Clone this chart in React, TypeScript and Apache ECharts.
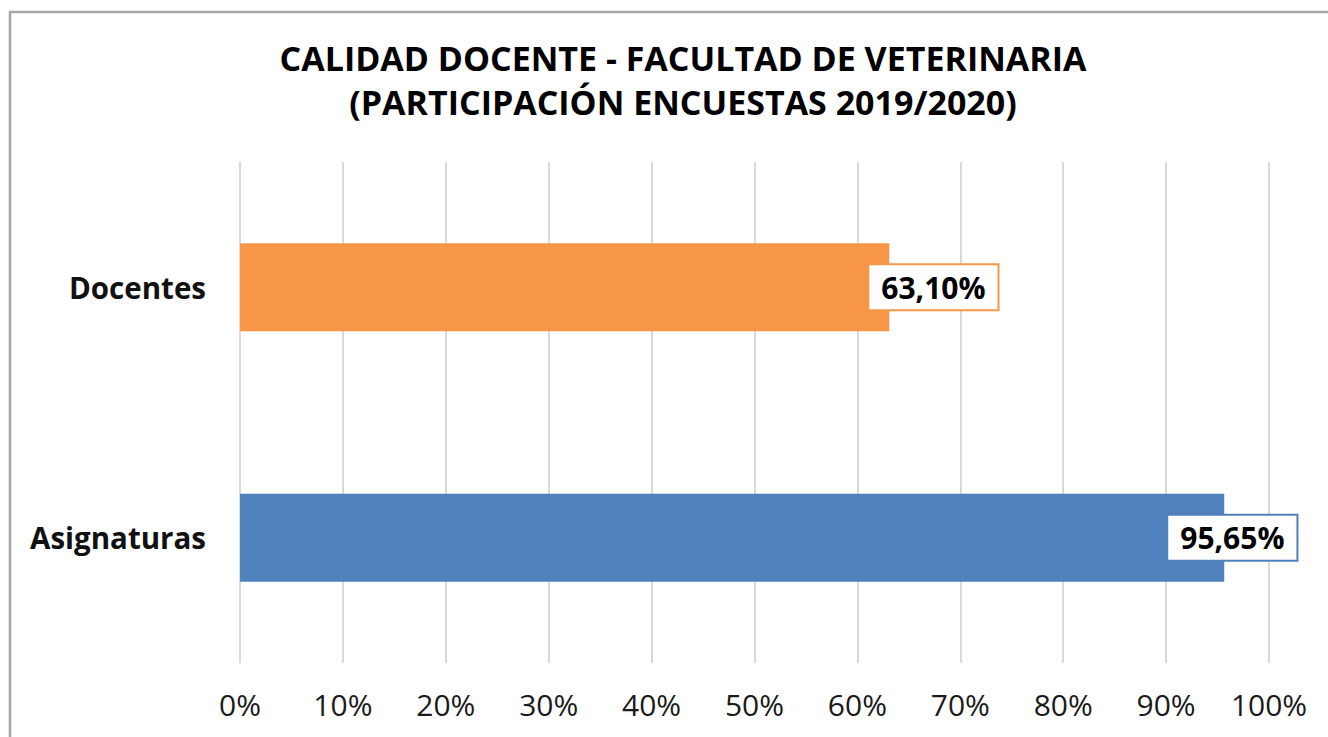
import React, { useEffect, useRef } from "react";
import * as echarts from "echarts";

const titleLines = ["CALIDAD DOCENTE - FACULTAD DE VETERINARIA", "(PARTICIPACIÓN ENCUESTAS 2019/2020)"];
const categories = ["Docentes", "Asignaturas"];
const values = [63.1, 95.65];
const barColors = ["#F79646", "#4F81BD"];
const labelOffsets = [-20, -56];
const xTicks = [0, 10, 20, 30, 40, 50, 60, 70, 80, 90, 100];

const FONT = "'Open Sans', 'Noto Sans', sans-serif";

export default function App() {
  const ref = useRef<HTMLDivElement>(null);
  useEffect(() => {
    if (!ref.current) return;
    const chart = echarts.init(ref.current, undefined, { renderer: "svg" });
    const fmt = (v: number) => v.toFixed(2).replace(".", ",") + "%";
    chart.setOption({
      animation: false,
      backgroundColor: "#ffffff",
      title: {
        text: titleLines.join("\n"),
        left: 678,
        top: 31,
        textAlign: "center",
        textStyle: {
          fontFamily: FONT,
          fontSize: 34,
          fontWeight: "bold",
          lineHeight: 44,
          color: "#000000",
        },
      },
      graphic: [
        {
          type: "rect",
          shape: { x: 10, y: 12, width: 1340, height: 760 },
          style: { fill: "none", stroke: "#a6a6a6", lineWidth: 2.5 },
          silent: true,
        },
      ],
      grid: { left: 240, right: 59, top: 162, bottom: 74, containLabel: false },
      xAxis: {
        type: "value",
        min: xTicks[0],
        max: xTicks[xTicks.length - 1],
        interval: 10,
        axisLine: { show: false },
        axisTick: { show: false },
        splitLine: { show: true, lineStyle: { color: "#d9d9d9", width: 2 } },
        axisLabel: {
          formatter: (v: number) => v + "%",
          fontFamily: FONT,
          fontSize: 30,
          color: "#1a1a1a",
          margin: 26,
        },
      },
      yAxis: {
        type: "category",
        data: categories,
        inverse: true,
        axisLine: { show: false },
        axisTick: { show: false },
        splitLine: { show: false },
        axisLabel: {
          fontFamily: FONT,
          fontSize: 29.5,
          fontWeight: "bold",
          color: "#111111",
          margin: 34,
        },
      },
      series: [
        {
          type: "bar",
          barWidth: 88,
          data: values.map((v, i) => ({
            value: v,
            itemStyle: { color: barColors[i] },
            label: {
              show: true,
              position: "right",
              distance: 0,
              offset: [labelOffsets[i], 0],
              formatter: () => fmt(v),
              fontFamily: FONT,
              fontSize: 30,
              fontWeight: "bold",
              color: "#000000",
              backgroundColor: "#ffffff",
              borderColor: barColors[i],
              borderWidth: 2,
              padding: [8, 12, 6, 12],
            },
          })),
        },
      ],
    });
    return () => chart.dispose();
  }, []);
  return (
    <div
      ref={ref}
      style={{ position: "fixed", left: 0, top: 0, width: 1328, height: 737, background: "#fff" }}
    />
  );
}
